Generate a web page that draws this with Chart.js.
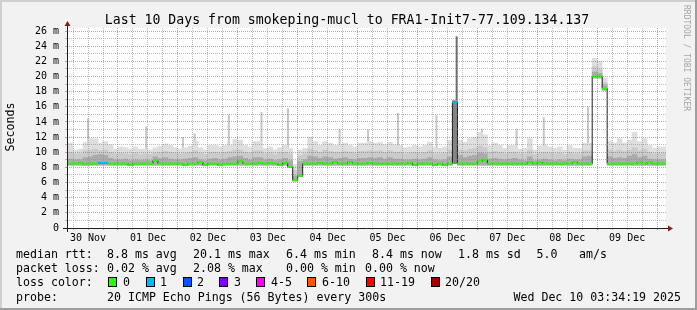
<!DOCTYPE html>
<html>
<head>
<meta charset="utf-8">
<script src="https://cdn.jsdelivr.net/npm/chart.js@4.4.1/dist/chart.umd.min.js"></script>
<style>
html, body { margin: 0; padding: 0; background: #f2f2f2; }
canvas { display: block; }
</style>
</head>
<body>
<canvas id="chart" width="697" height="310"></canvas>
<script>
/* ===========================
   DATA  (2 hour bins, hours after 30 Nov 00:00)
=========================== */

const dayLabels = ["30 Nov", "01 Dec", "02 Dec", "03 Dec", "04 Dec",
                   "05 Dec", "06 Dec", "07 Dec", "08 Dec", "09 Dec"];

const firstBinHour = 5;
const binStep = 2;

// median rtt (ms)
const medianMs = [
  8.5, 8.5, 8.55, 8.4, 8.5, 8.5, 8.6, 8.6, 8.5, 8.5,
  8.5, 8.5, 8.3, 8.5, 8.5, 8.5, 8.5, 8.9, 8.5, 8.5, 8.5, 8.5,
  8.5, 8.3, 8.5, 8.5, 8.7, 8.3, 8.5, 8.5, 8.3, 8.45, 8.5, 8.5,
  8.8, 8.5, 8.5, 8.5, 8.6, 8.5, 8.6, 8.5, 8.3, 8.6, 8.1, 6.3,
  6.9, 8.5, 8.5, 8.5, 8.6, 8.5, 8.5, 8.7, 8.5, 8.5, 8.7, 8.5,
  8.5, 8.5, 8.6, 8.5, 8.5, 8.5, 8.5, 8.5, 8.5, 8.5, 8.6, 8.3,
  8.5, 8.5, 8.5, 8.3, 8.5, 8.3, 8.5, 16.6, 8.5, 8.5, 8.5, 8.5,
  8.8, 9.0, 8.5, 8.5, 8.5, 8.5, 8.5, 8.5, 8.5, 8.5, 8.7, 8.5,
  8.7, 8.5, 8.5, 8.5, 8.5, 8.5, 8.5, 8.7, 8.5, 8.5, 8.5, 20.0,
  20.0, 18.4, 8.5, 8.5, 8.5, 8.5, 8.5, 8.5, 8.7, 8.5, 8.7, 8.5,
  8.5, 8.5
];

// lowest ping of the bin (ms)
const lowMs = [
  8.3, 8.3, 8.3, 8.3, 8.3, 8.3, 8.3, 8.3, 8.3, 8.3,
  8.3, 8.3, 8.3, 8.3, 8.3, 8.3, 8.3, 8.3, 8.3, 8.3, 8.3, 8.3,
  8.3, 8.3, 8.3, 8.3, 8.3, 8.3, 8.3, 8.3, 8.3, 8.3, 8.3, 8.3,
  8.3, 8.3, 8.3, 8.3, 8.3, 8.3, 8.3, 8.3, 8.3, 8.3, 8.0, 6.2,
  6.8, 8.3, 8.3, 8.3, 8.3, 8.3, 8.3, 8.3, 8.3, 8.3, 8.3, 8.3,
  8.3, 8.3, 8.3, 8.3, 8.3, 8.3, 8.3, 8.3, 8.3, 8.3, 8.3, 8.3,
  8.3, 8.3, 8.3, 8.3, 8.3, 8.3, 8.3, 8.5, 8.3, 8.3, 8.3, 8.3,
  8.3, 8.3, 8.3, 8.3, 8.3, 8.3, 8.3, 8.3, 8.3, 8.3, 8.3, 8.3,
  8.3, 8.3, 8.3, 8.3, 8.3, 8.3, 8.3, 8.3, 8.3, 8.3, 8.3, 19.8,
  19.8, 18.2, 8.3, 8.3, 8.3, 8.3, 8.3, 8.3, 8.3, 8.3, 8.3, 8.3,
  8.3, 8.3
];

// dense smoke (ms)
const darkMs = [
  9.1, 9.0, 9.0, 9.3, 9.4, 9.6, 9.7, 9.6, 9.2, 9.0,
  9.0, 9.1, 8.9, 9.0, 8.9, 9.0, 8.9, 9.4, 9.2, 9.3, 9.1, 9.0,
  9.0, 9.1, 9.2, 9.3, 9.0, 8.9, 9.1, 9.2, 9.0, 9.1, 9.3, 9.4,
  9.5, 9.2, 9.0, 9.3, 9.3, 9.0, 9.1, 8.9, 9.0, 9.2, 8.9, 6.9,
  8.8, 9.0, 9.5, 9.4, 9.2, 9.4, 9.3, 9.1, 9.2, 9.3, 9.1, 9.0,
  9.2, 9.2, 9.3, 9.2, 9.3, 9.1, 9.3, 9.1, 9.1, 9.0, 9.0, 9.1,
  9.0, 9.1, 9.3, 9.0, 8.9, 9.0, 9.4, 16.8, 9.6, 9.3, 9.5, 9.6,
  9.9, 9.8, 9.1, 9.2, 9.1, 9.0, 9.1, 9.2, 9.0, 8.9, 9.4, 8.9,
  9.0, 9.1, 9.0, 8.9, 9.0, 8.9, 9.1, 9.0, 9.0, 9.4, 9.5, 20.6,
  20.4, 18.8, 9.4, 9.2, 9.3, 9.2, 9.5, 9.7, 9.3, 9.5, 9.1, 9.0,
  9.0, 9.0
];

// middle smoke (ms)
const midMs = [
  10.0, 9.8, 9.8, 10.2, 10.3, 10.4, 10.2, 10.3, 10.0, 9.8,
  9.9, 9.8, 9.7, 9.9, 9.7, 9.8, 9.7, 9.9, 10.0, 10.1, 10.0, 9.9,
  9.8, 9.9, 10.0, 10.2, 9.9, 9.7, 10.0, 10.0, 9.9, 10.0, 10.1, 10.3,
  10.3, 10.0, 9.9, 10.2, 10.2, 9.8, 9.9, 9.7, 9.9, 10.0, 9.8, 7.6,
  9.6, 9.8, 10.4, 10.2, 10.0, 10.3, 10.1, 10.0, 10.0, 10.1, 10.0, 9.9,
  10.1, 10.1, 10.2, 10.1, 10.2, 10.0, 10.2, 10.0, 10.0, 9.8, 9.9, 10.0,
  9.9, 10.0, 10.2, 9.8, 9.8, 9.9, 10.3, 16.8, 10.3, 10.2, 10.4, 10.5,
  10.8, 10.6, 10.0, 10.1, 10.0, 9.8, 10.0, 10.0, 9.8, 9.8, 10.3, 9.7,
  9.9, 10.0, 9.9, 9.8, 9.9, 9.7, 10.0, 9.8, 9.8, 10.2, 10.2, 21.3,
  21.0, 19.2, 10.3, 10.1, 10.3, 10.1, 10.3, 10.6, 10.2, 10.4, 10.0, 9.8,
  9.9, 9.9
];

// outer smoke (ms)
const topMs = [
  11.2, 10.3, 10.4, 11.3, 11.8, 11.8, 11.2, 11.4, 11.0, 10.4,
  10.7, 10.6, 10.4, 10.7, 10.4, 10.4, 10.3, 10.6, 10.8, 11.1, 10.9, 10.6,
  10.4, 10.6, 10.8, 11.5, 10.6, 10.3, 10.9, 10.9, 10.7, 10.9, 10.9, 11.7,
  11.6, 10.9, 10.7, 11.4, 11.4, 10.5, 10.7, 10.3, 10.6, 10.9, 10.5, 8.4,
  10.3, 10.5, 12.0, 11.4, 10.9, 11.4, 11.2, 10.9, 10.9, 11.2, 10.9, 10.7,
  11.2, 11.2, 11.4, 11.2, 11.3, 11.0, 11.3, 11.0, 10.9, 10.6, 10.7, 10.9,
  10.7, 10.9, 11.3, 10.6, 10.5, 10.7, 11.6, 16.8, 11.6, 11.3, 11.8, 12.0,
  12.6, 12.3, 10.9, 11.2, 10.9, 10.5, 10.9, 10.9, 10.4, 10.5, 11.8, 10.3,
  10.8, 10.9, 10.7, 10.5, 10.7, 10.3, 10.9, 10.5, 10.5, 11.2, 11.2, 22.4,
  22.0, 19.8, 11.5, 11.2, 11.8, 11.2, 11.6, 12.6, 11.4, 11.8, 10.9, 10.5,
  10.7, 10.7
];

// bins with lost pings
const lossBins = [6, 7, 77];
const lossCounts = [1, 1, 1];

// single high pings
const spikeHours = [12.0, 35.3, 50.0, 54.7, 68.4, 81.5, 92.1, 112.8,
                    124.2, 136.2, 151.6, 159.7, 169.8, 183.7, 194.6, 212.3];
const spikeTops = [14.5, 13.4, 12.0, 12.5, 15.0, 15.3, 15.8, 13.1,
                   13.0, 15.2, 14.9, 25.3, 13.1, 13.1, 14.6, 16.0];
const spikeBase = 9;

const lossLabels = ["0", "1", "2", "3", "4-5", "6-10", "11-19", "20/20"];
const lossColors = ["#26ff00", "#00b8ff", "#0059ff", "#7e00ff",
                    "#ff00ff", "#ff5500", "#ff0000", "#a10000"];

const startHour = 3.57;   // 30 Nov 03:34
const endHour = 243.57;   // 10 Dec 03:34


/* ===========================
   BUILD
=========================== */

const binHours = medianMs.map((v, i) => firstBinHour + binStep * i);

function band(upper){
    return binHours.map((h, i) => ({ x: h, y: [lowMs[i], upper[i]] }));
}

const medianPoints = binHours.map((h, i) => ({ x: h, y: medianMs[i] }));

const medianColors = binHours.map((h, i) => {
    const k = lossBins.indexOf(i);
    return k < 0 ? lossColors[0] : lossColors[lossCounts[k]];
});

// each spike is a short vertical line, separated by a gap
const spikePoints = [];
spikeHours.forEach((h, i) => {
    spikePoints.push({ x: h, y: spikeBase });
    spikePoints.push({ x: h, y: spikeTops[i] });
    spikePoints.push({ x: h, y: null });
});

const MONO = "'DejaVu Sans Mono', monospace";

const gridColor = "rgba(143,143,143,0.6)";
const majorColor = "rgba(222,79,79,0.6)";


/* ===========================
   FRAME, AXES, TEXT
=========================== */

const frame = {
    id: "frame",

    beforeDraw(chart){
        const c = chart.ctx;
        const a = chart.chartArea;
        c.save();
        c.fillStyle = "#f2f2f2";
        c.fillRect(0, 0, 697, 310);
        c.fillStyle = "#ffffff";
        c.fillRect(a.left, a.top, a.right - a.left, a.bottom - a.top);
        c.restore();
    },

    afterDraw(chart){
        const c = chart.ctx;
        c.save();

        // axes
        c.strokeStyle = "rgb(31,31,31)";
        c.lineWidth = 1;
        c.beginPath();
        c.moveTo(63, 228.5);
        c.lineTo(670, 228.5);
        c.moveTo(67.5, 232);
        c.lineTo(67.5, 24);
        c.stroke();

        c.fillStyle = "rgb(128,31,31)";
        c.beginPath();
        c.moveTo(668, 225.5);
        c.lineTo(668, 231.5);
        c.lineTo(673, 228.5);
        c.closePath();
        c.fill();
        c.beginPath();
        c.moveTo(64.5, 26);
        c.lineTo(70.5, 26);
        c.lineTo(67.5, 21);
        c.closePath();
        c.fill();

        // title
        c.fillStyle = "#000";
        c.font = "13.2px " + MONO;
        c.textAlign = "center";
        c.textBaseline = "alphabetic";
        c.fillText("Last 10 Days from smokeping-mucl to FRA1-Init7-77.109.134.137", 347, 24);

        // unit
        c.font = "11.6px " + MONO;
        c.save();
        c.translate(14, 127);
        c.rotate(-Math.PI / 2);
        c.fillText("Seconds", 0, 0);
        c.restore();

        // watermark
        c.save();
        c.fillStyle = "#a6a6a6";
        c.font = "8px " + MONO;
        c.textAlign = "left";
        c.translate(684, 5);
        c.rotate(Math.PI / 2);
        c.fillText("RRDTOOL / TOBI OETIKER", 0, 0);
        c.restore();

        // legend
        c.textAlign = "left";
        c.font = "11.6px " + MONO;
        const put = (t, x, y) => c.fillText(t, x, y);

        put("median rtt:", 16, 258);
        put("8.8 ms avg", 107, 258);
        put("20.1 ms max", 193, 258);
        put("6.4 ms min", 286, 258);
        put("8.4 ms now", 372, 258);
        put("1.8 ms sd", 458, 258);
        put("5.0", 536.5, 258);
        put("am/s", 579, 258);

        put("packet loss:", 16, 272);
        put("0.02 % avg", 107, 272);
        put("2.08 % max", 193, 272);
        put("0.00 % min", 286, 272);
        put("0.00 % now", 365, 272);

        put("loss color:", 16, 286);
        const boxX = [108, 146, 183, 219, 256, 307, 366, 431];
        const textX = [123, 160, 197, 234, 271, 322, 380, 445];
        lossLabels.forEach((lab, i) => {
            c.fillStyle = lossColors[i];
            c.fillRect(boxX[i], 277, 9, 10);
            c.strokeStyle = "#000";
            c.strokeRect(boxX[i] + 0.5, 277.5, 8, 9);
            c.fillStyle = "#000";
            put(lab, textX[i], 286);
        });

        put("probe:", 16, 300.5);
        put("20 ICMP Echo Pings (56 Bytes) every 300s", 107, 300.5);
        c.textAlign = "right";
        put("Wed Dec 10 03:34:19 2025", 681, 300.5);

        // 3d border
        c.fillStyle = "#cfcfcf";
        c.fillRect(0, 0, 697, 2);
        c.fillRect(0, 0, 2, 310);
        c.fillStyle = "#9e9e9e";
        c.fillRect(0, 308, 697, 2);
        c.fillRect(695, 0, 2, 310);

        c.restore();
    }
};


/* ===========================
   CHART
=========================== */

const ctx = document.getElementById("chart");

const chart = new Chart(ctx, {

    data: {
        datasets: [
            {
                type: "line",
                data: spikePoints,
                spanGaps: false,
                borderWidth: 2,
                pointRadius: 0,
                fill: false,
                borderColor: "#c6c6c6",
                segment: {
                    borderColor: (s) => (s.p1.parsed.y > 20 ? "#6e6e6e" : "#c6c6c6")
                },
                order: 6
            },
            {
                type: "bar",
                data: band(topMs),
                grouped: false,
                barPercentage: 1,
                categoryPercentage: 1,
                backgroundColor: "#dedede",
                order: 5
            },
            {
                type: "bar",
                data: band(midMs),
                grouped: false,
                barPercentage: 1,
                categoryPercentage: 1,
                backgroundColor: "#cbcbcb",
                order: 4
            },
            {
                type: "bar",
                data: band(darkMs),
                grouped: false,
                barPercentage: 1,
                categoryPercentage: 1,
                backgroundColor: (c) => {
                    const r = c.raw;
                    return r && r.y[1] - r.y[0] > 4 ? "#858585" : "#ababab";
                },
                order: 3
            },
            {
                type: "line",
                data: medianPoints,
                stepped: "middle",
                borderColor: "#202020",
                borderWidth: 1,
                pointRadius: 0,
                fill: false,
                order: 2
            },
            {
                type: "line",
                data: medianPoints,
                showLine: false,
                pointStyle: "line",
                pointRadius: 2.6,
                pointBorderWidth: 2,
                pointBorderColor: medianColors,
                order: 1
            }
        ]
    },

    options: {
        responsive: false,
        animation: false,
        devicePixelRatio: 1,
        events: [],
        layout: {
            autoPadding: false,
            padding: { top: 28, right: 31, bottom: 62, left: 0 }
        },
        plugins: {
            legend: { display: false },
            tooltip: { enabled: false },
            title: { display: false }
        },
        scales: {
            x: {
                type: "linear",
                min: startHour,
                max: endHour,
                offset: false,
                afterFit: (s) => { s.height = 20; },
                afterBuildTicks: (s) => {
                    const t = [];
                    for (let h = 6; h <= 240; h += 6) t.push({ value: h });
                    s.ticks = t;
                },
                grid: {
                    z: 1,
                    offset: false,
                    color: (c) => (c.tick && c.tick.value % 24 === 0 ? majorColor : gridColor),
                    tickColor: (c) => (c.tick && c.tick.value % 24 === 0 ? majorColor : gridColor),
                    tickLength: 2,
                    lineWidth: 1
                },
                border: { display: false, dash: [1, 1] },
                ticks: {
                    autoSkip: false,
                    maxRotation: 0,
                    minRotation: 0,
                    padding: 2,
                    color: "#000",
                    font: { family: MONO, size: 10 },
                    callback: (v) => ((v - 12) % 24 === 0 ? dayLabels[(v - 12) / 24] : "")
                }
            },
            y: {
                type: "linear",
                min: 0,
                max: 26.4,
                afterFit: (s) => { s.width = 67; },
                afterBuildTicks: (s) => {
                    const t = [];
                    for (let v = 0; v <= 26; v++) t.push({ value: v });
                    s.ticks = t;
                },
                grid: {
                    z: 1,
                    color: (c) => (c.tick && c.tick.value % 2 === 0 ? majorColor : gridColor),
                    tickColor: (c) => (c.tick && c.tick.value % 2 === 0 ? majorColor : gridColor),
                    tickLength: 2,
                    lineWidth: 1
                },
                border: { display: false, dash: [1, 1] },
                ticks: {
                    autoSkip: false,
                    padding: 6,
                    color: "#000",
                    font: { family: MONO, size: 10 },
                    callback: (v) => (v % 2 === 0 ? (v === 0 ? "0" : v + " m") : "")
                }
            }
        }
    },

    plugins: [frame]
});
</script>
</body>
</html>
